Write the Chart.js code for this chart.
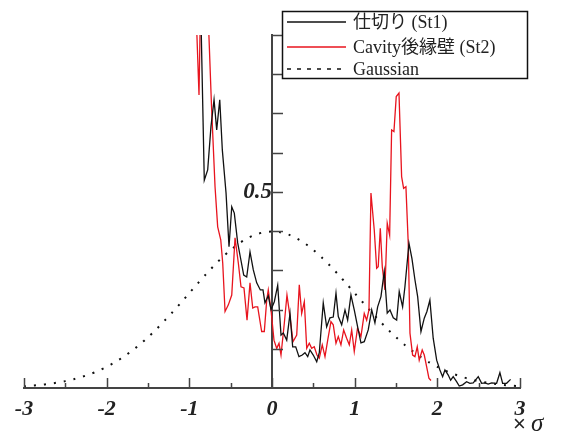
<!DOCTYPE html>
<html>
<head>
<meta charset="utf-8">
<script src="https://cdn.jsdelivr.net/npm/chart.js@4/dist/chart.umd.min.js"></script>
<style>
  html, body { margin: 0; padding: 0; background: #fff; }
  #wrap { width: 563px; height: 441px; }
</style>
</head>
<body>
<div id="wrap"><canvas id="myChart" width="563" height="441"></canvas></div>
<script>
// series names (legend)
const seriesNames = ['仕切り (St1)', 'Cavity後縁壁 (St2)', 'Gaussian'];

// 仕切り (St1), x in units of sigma
const st1X = [-0.865, -0.819, -0.778, -0.738, -0.701, -0.669, -0.632, -0.601, -0.556, -0.520,
  -0.487, -0.456, -0.415, -0.383, -0.342, -0.306, -0.266, -0.226, -0.185, -0.141,
  -0.109, -0.085, -0.045, -0.012, 0.028, 0.069, 0.109, 0.137, 0.178, 0.218,
  0.250, 0.287, 0.326, 0.366, 0.399, 0.432, 0.459, 0.499, 0.541, 0.572,
  0.620, 0.661, 0.701, 0.741, 0.774, 0.802, 0.843, 0.883, 0.915, 0.955,
  0.995, 1.036, 1.076, 1.116, 1.164, 1.206, 1.245, 1.278, 1.318, 1.358,
  1.394, 1.427, 1.467, 1.508, 1.539, 1.580, 1.608, 1.657, 1.693, 1.729,
  1.762, 1.802, 1.842, 1.874, 1.910, 1.950, 1.992, 2.031, 2.064, 2.092,
  2.132, 2.161, 2.192, 2.233, 2.265, 2.306, 2.354, 2.394, 2.434, 2.495,
  2.536, 2.576, 2.615, 2.657, 2.717, 2.757, 2.790, 2.838, 2.886];
const st1Y = [1.000, 0.530, 0.556, 0.667, 0.735, 0.658, 0.735, 0.607, 0.497, 0.360,
  0.462, 0.446, 0.370, 0.334, 0.288, 0.283, 0.347, 0.301, 0.268, 0.250,
  0.250, 0.217, 0.235, 0.200, 0.220, 0.262, 0.135, 0.140, 0.122, 0.190,
  0.105, 0.105, 0.080, 0.084, 0.090, 0.080, 0.097, 0.084, 0.067, 0.090,
  0.217, 0.156, 0.179, 0.181, 0.242, 0.182, 0.161, 0.199, 0.173, 0.237,
  0.199, 0.156, 0.115, 0.118, 0.148, 0.199, 0.166, 0.207, 0.233, 0.297,
  0.191, 0.199, 0.179, 0.173, 0.246, 0.207, 0.258, 0.369, 0.330, 0.276,
  0.233, 0.144, 0.178, 0.195, 0.224, 0.127, 0.071, 0.046, 0.029, 0.046,
  0.033, 0.020, 0.029, 0.016, 0.005, 0.008, 0.016, 0.012, 0.013, 0.029,
  0.012, 0.013, 0.010, 0.013, 0.012, 0.039, 0.012, 0.012, 0.022];

// Cavity後縁壁 (St2)
const st2X = [-0.925, -0.883, -0.840, -0.798, -0.732, -0.689, -0.657, -0.620, -0.596, -0.568,
  -0.528, -0.487, -0.447, -0.407, -0.375, -0.339, -0.302, -0.266, -0.233, -0.206,
  -0.173, -0.125, -0.093, -0.064, -0.045, -0.012, 0.024, 0.057, 0.085, 0.109,
  0.149, 0.181, 0.218, 0.254, 0.299, 0.330, 0.359, 0.391, 0.420, 0.451,
  0.480, 0.511, 0.544, 0.572, 0.608, 0.641, 0.674, 0.713, 0.741, 0.774,
  0.802, 0.834, 0.867, 0.903, 0.935, 0.964, 0.995, 1.034, 1.076, 1.116,
  1.145, 1.173, 1.197, 1.237, 1.266, 1.285, 1.310, 1.334, 1.366, 1.394,
  1.423, 1.447, 1.475, 1.503, 1.536, 1.568, 1.592, 1.620, 1.648, 1.669,
  1.701, 1.729, 1.757, 1.781, 1.817, 1.842, 1.871, 1.898, 1.923];
const st2Y = [1.000, 0.747, 1.300, 1.100, 0.720, 0.513, 0.411, 0.378, 0.318, 0.195,
  0.212, 0.237, 0.383, 0.318, 0.258, 0.255, 0.173, 0.268, 0.204, 0.207,
  0.207, 0.144, 0.144, 0.224, 0.250, 0.199, 0.122, 0.101, 0.114, 0.084,
  0.165, 0.237, 0.182, 0.118, 0.135, 0.263, 0.190, 0.220, 0.101, 0.114,
  0.101, 0.105, 0.084, 0.076, 0.110, 0.080, 0.122, 0.169, 0.161, 0.114,
  0.131, 0.110, 0.148, 0.127, 0.110, 0.148, 0.093, 0.152, 0.131, 0.190,
  0.173, 0.199, 0.497, 0.403, 0.305, 0.309, 0.407, 0.309, 0.250, 0.420,
  0.390, 0.658, 0.654, 0.743, 0.752, 0.539, 0.509, 0.513, 0.369, 0.140,
  0.084, 0.080, 0.105, 0.071, 0.097, 0.084, 0.054, 0.025, 0.019];

// Gaussian (standard normal density)
const gaussX = [-3.0, -2.9, -2.8, -2.7, -2.6, -2.5, -2.4, -2.3, -2.2, -2.1,
  -2.0, -1.9, -1.8, -1.7, -1.6, -1.5, -1.4, -1.3, -1.2, -1.1,
  -1.0, -0.9, -0.8, -0.7, -0.6, -0.5, -0.4, -0.3, -0.2, -0.1,
  0.0, 0.1, 0.2, 0.3, 0.4, 0.5, 0.6, 0.7, 0.8, 0.9,
  1.0, 1.1, 1.2, 1.3, 1.4, 1.5, 1.6, 1.7, 1.8, 1.9,
  2.0, 2.1, 2.2, 2.3, 2.4, 2.5, 2.6, 2.7, 2.8, 2.9, 3.0];
const gaussY = [0.0044, 0.0060, 0.0079, 0.0104, 0.0136, 0.0175, 0.0224, 0.0283, 0.0355, 0.0440,
  0.0540, 0.0656, 0.0790, 0.0940, 0.1109, 0.1295, 0.1497, 0.1714, 0.1942, 0.2179,
  0.2420, 0.2661, 0.2897, 0.3123, 0.3332, 0.3521, 0.3683, 0.3814, 0.3910, 0.3970,
  0.3989, 0.3970, 0.3910, 0.3814, 0.3683, 0.3521, 0.3332, 0.3123, 0.2897, 0.2661,
  0.2420, 0.2179, 0.1942, 0.1714, 0.1497, 0.1295, 0.1109, 0.0940, 0.0790, 0.0656,
  0.0540, 0.0440, 0.0355, 0.0283, 0.0224, 0.0175, 0.0136, 0.0104, 0.0079, 0.0060, 0.0044];

// tick labels
const xTickLabels = ['-3', '-2', '-1', '0', '1', '2', '3'];
const yTickValues = [0.5];
const yTickLabels = ['0.5'];
const xAxisUnit = ['×', 'σ'];

const lineColors = ['#111111', '#e8141e', '#111111'];
const serif = '"Liberation Serif", "Noto Sans CJK JP", serif';

function pts(xs, ys) {
  return xs.map((x, i) => ({ x: x, y: ys[i] }));
}

// inward tick marks, unit label and boxed legend
const decorPlugin = {
  id: 'decor',
  afterDraw(chart) {
    const ctx = chart.ctx;
    const xs = chart.scales.x, ys = chart.scales.y;
    const y0 = ys.getPixelForValue(0);
    const x0 = xs.getPixelForValue(0);
    ctx.save();
    ctx.strokeStyle = '#444';
    ctx.lineWidth = 1.5;
    ctx.beginPath();
    for (let v = -3; v <= 3.001; v += 0.5) {
      const px = Math.round(xs.getPixelForValue(v)) + 0.5;
      const len = Math.abs(v - Math.round(v)) < 1e-6 ? 10 : 5;
      ctx.moveTo(px, y0);
      ctx.lineTo(px, y0 - len);
    }
    for (let v = 0.1; v <= 0.901; v += 0.1) {
      const py = Math.round(ys.getPixelForValue(v)) + 0.5;
      ctx.moveTo(x0, py);
      ctx.lineTo(x0 + 11, py);
    }
    ctx.stroke();

    // unit under the x axis
    const ux = xs.getPixelForValue(3) - 7;
    ctx.fillStyle = '#222';
    ctx.textBaseline = 'middle';
    ctx.textAlign = 'left';
    ctx.font = '22px "Liberation Sans", sans-serif';
    ctx.fillText(xAxisUnit[0], ux, 425);
    ctx.font = 'italic 25px "Liberation Serif", serif';
    ctx.fillText(xAxisUnit[1], ux + 18, 424);

    // legend
    const lx = 282.5, ly = 11.5, lw = 245, lh = 67;
    ctx.fillStyle = '#fff';
    ctx.fillRect(lx, ly, lw, lh);
    ctx.strokeStyle = '#111';
    ctx.lineWidth = 1.5;
    ctx.strokeRect(lx, ly, lw, lh);
    const rows = [22, 47, 69];
    chart.data.datasets.forEach((ds, i) => {
      ctx.beginPath();
      ctx.strokeStyle = ds.borderColor;
      ctx.lineWidth = 1.3;
      ctx.setLineDash(i === 2 ? [4, 6] : []);
      ctx.moveTo(287, rows[i]);
      ctx.lineTo(346, rows[i]);
      ctx.stroke();
      ctx.setLineDash([]);
      ctx.fillStyle = '#222';
      ctx.font = '18px ' + serif;
      ctx.textAlign = 'left';
      ctx.textBaseline = 'middle';
      ctx.fillText(ds.label, 353, rows[i] + 1);
    });
    ctx.restore();
  }
};

const ctx = document.getElementById('myChart').getContext('2d');
const myChart = new Chart(ctx, {
  type: 'line',
  data: {
    datasets: [
      { label: seriesNames[0], data: pts(st1X, st1Y), borderColor: lineColors[0], borderWidth: 1.3, pointRadius: 0, tension: 0 },
      { label: seriesNames[1], data: pts(st2X, st2Y), borderColor: lineColors[1], borderWidth: 1.3, pointRadius: 0, tension: 0 },
      { label: seriesNames[2], data: pts(gaussX, gaussY), borderColor: lineColors[2], borderWidth: 2, borderDash: [2, 8], pointRadius: 0, tension: 0.3 }
    ]
  },
  options: {
    responsive: false,
    animation: false,
    events: [],
    layout: { padding: { left: 24, right: 43, top: 35, bottom: 0 } },
    plugins: { legend: { display: false }, tooltip: { enabled: false } },
    scales: {
      x: {
        type: 'linear',
        min: -3,
        max: 3,
        afterFit: s => { s.height = 53; },
        grid: { display: false, drawTicks: false },
        border: { display: true, color: '#444', width: 2 },
        ticks: {
          stepSize: 1,
          padding: 8,
          autoSkip: false,
          maxRotation: 0,
          color: '#222',
          font: { family: '"Liberation Serif", serif', size: 22, style: 'italic', weight: 'bold' },
          callback: (v, i) => xTickLabels[i]
        }
      },
      y: {
        type: 'linear',
        position: { x: 0 },
        min: 0,
        max: 0.9,
        afterFit: s => { s.width = 0; },
        grid: { display: false, drawTicks: false },
        border: { display: true, color: '#444', width: 2 },
        ticks: {
          stepSize: 0.1,
          padding: 4,
          color: '#222',
          font: { family: '"Liberation Serif", serif', size: 23, style: 'italic', weight: 'bold' },
          callback: v => {
            const k = yTickValues.findIndex(t => Math.abs(t - v) < 1e-6);
            return k >= 0 ? yTickLabels[k] : '';
          }
        }
      }
    }
  },
  plugins: [decorPlugin]
});
</script>
</body>
</html>
